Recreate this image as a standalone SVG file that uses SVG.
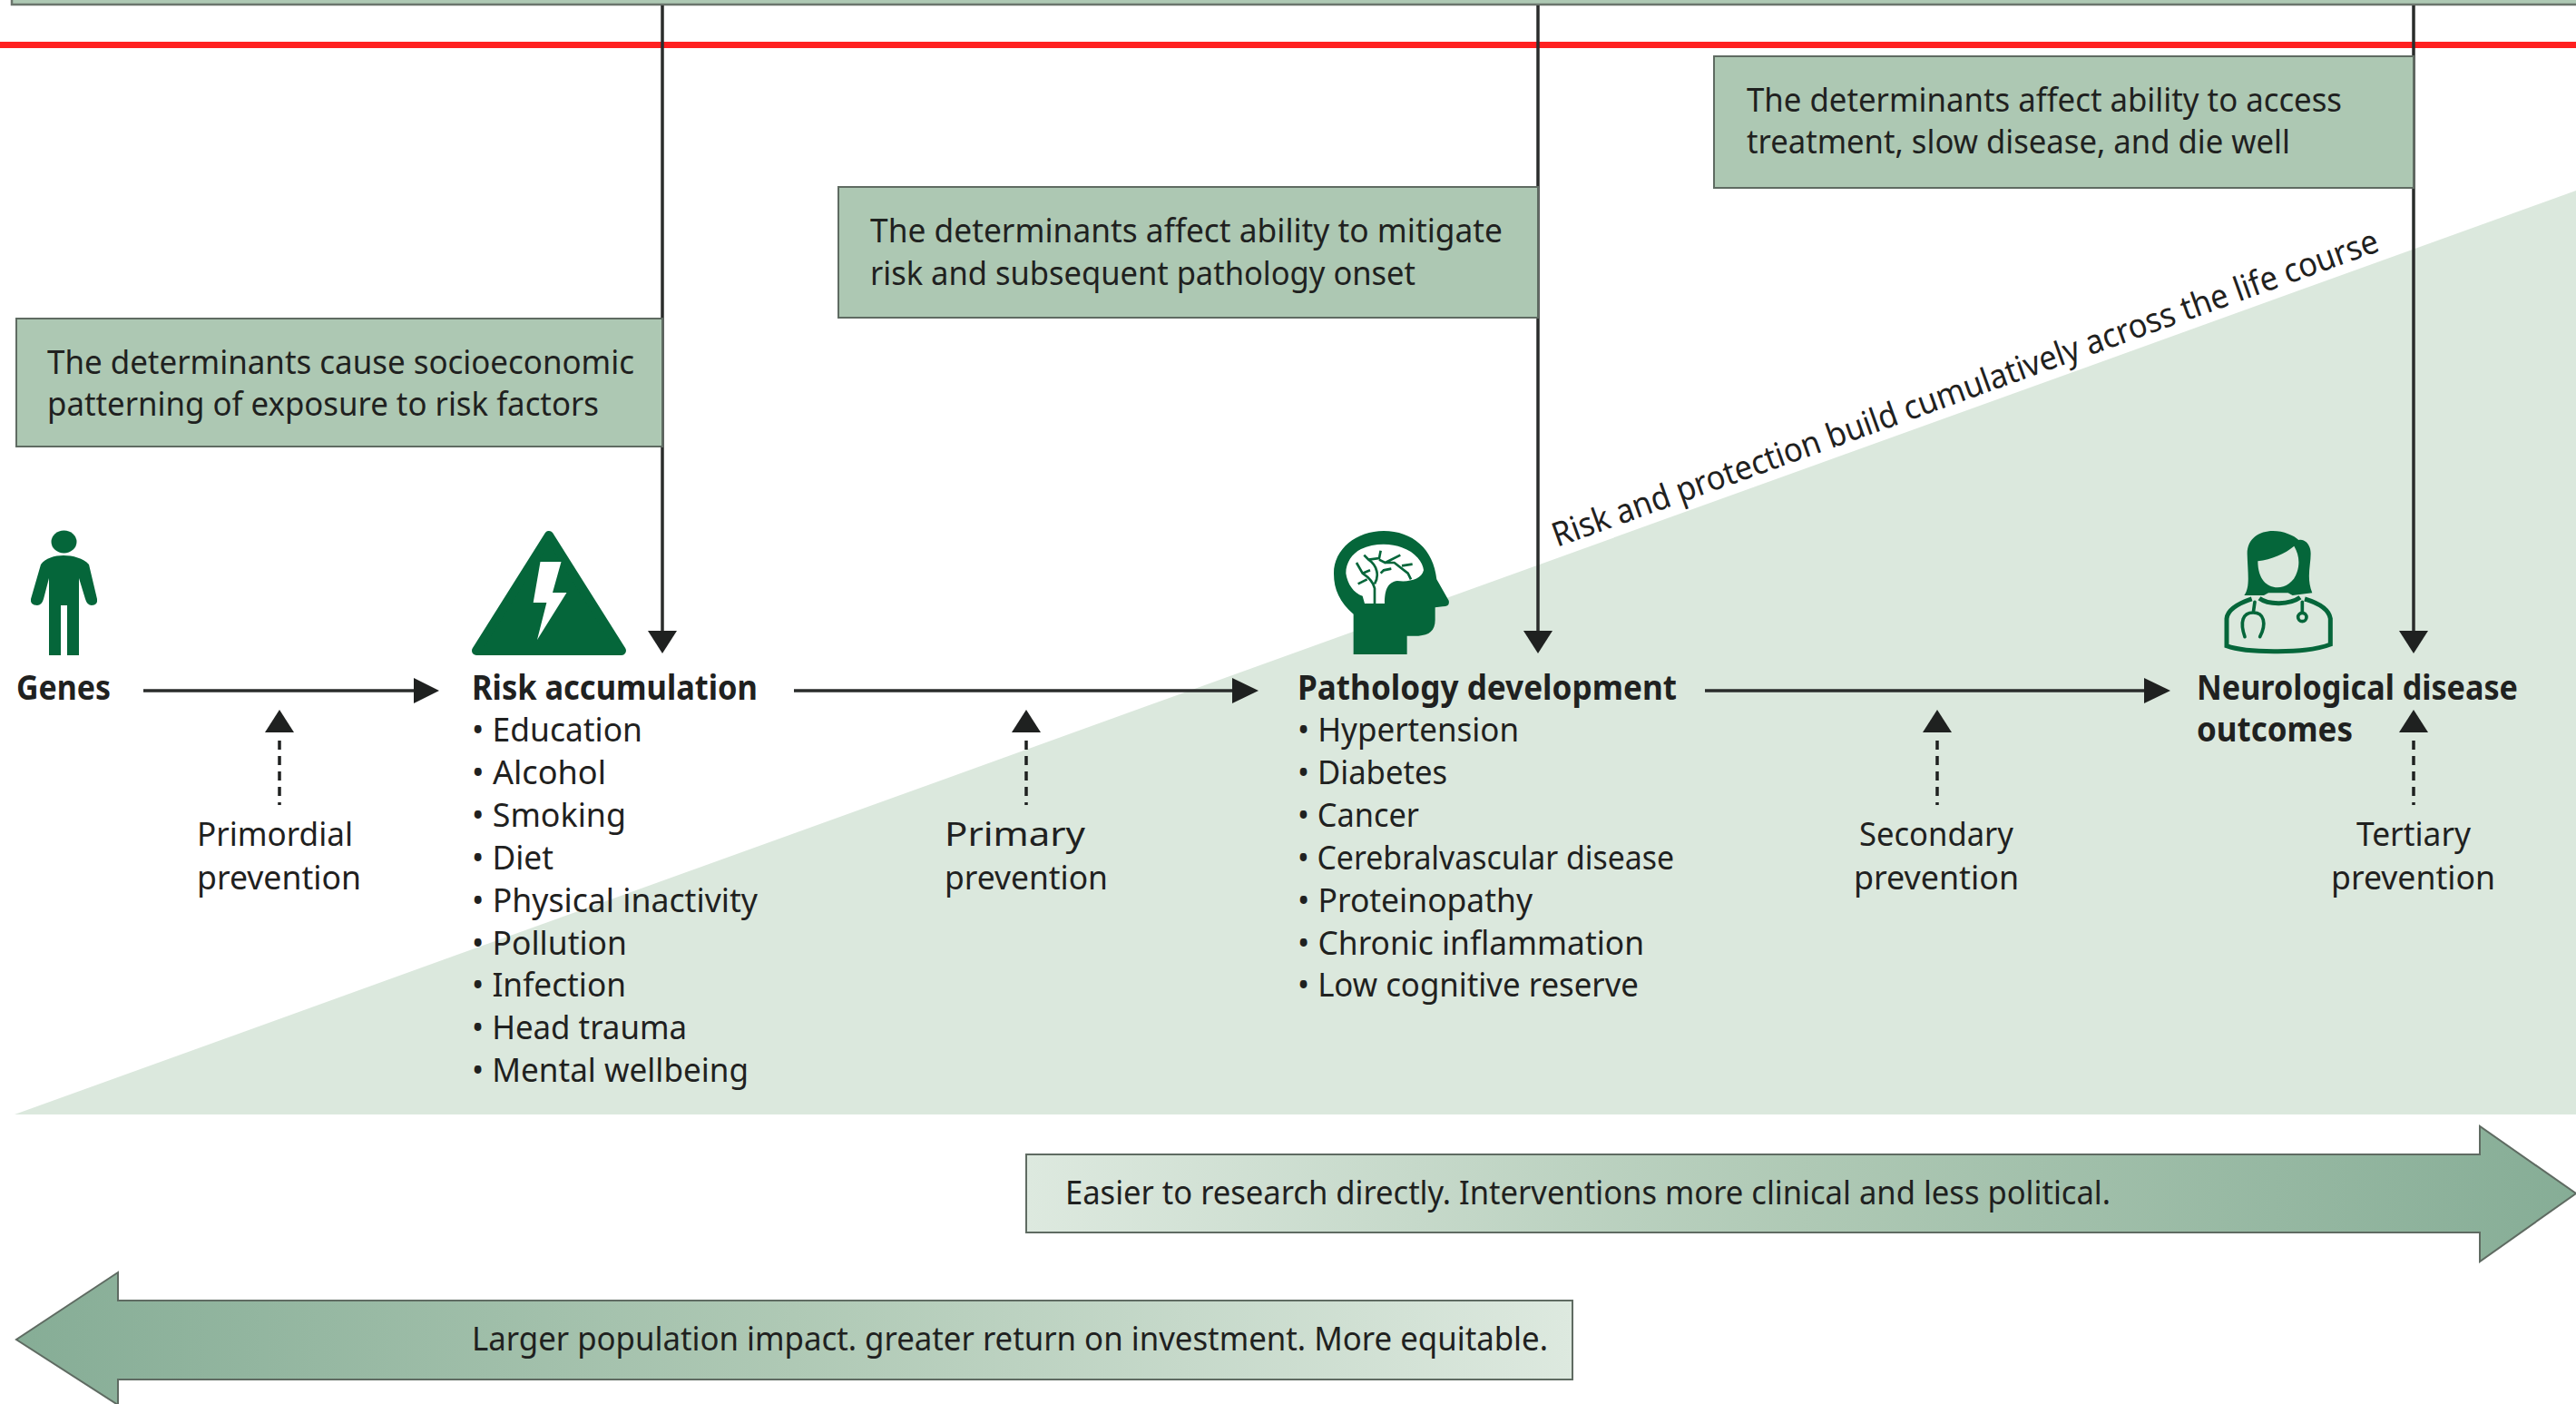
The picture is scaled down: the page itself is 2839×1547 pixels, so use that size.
<svg xmlns="http://www.w3.org/2000/svg" width="2839" height="1547" viewBox="0 0 2839 1547">
<defs>
<style>
text{font-family:"Noto Sans","Liberation Sans",sans-serif;font-size:37px;fill:#1f2120}
.b{font-weight:700}
.box{fill:#adc8b3;stroke:#5f6b62;stroke-width:2}
.ic{fill:#05663a}
.ln{stroke:#2a2c2b;stroke-width:3.5;fill:none}
.ds{stroke:#1f2120;stroke-width:3.5;fill:none;stroke-dasharray:10 7}
.ah{fill:#1f2120}
.band{stroke:#6b756d;stroke-width:2.5}
</style>
<linearGradient id="gr" x1="0" x2="1" y1="0" y2="0"><stop offset="0" stop-color="#dde9df"/><stop offset="0.5" stop-color="#afc9b5"/><stop offset="1" stop-color="#86ad96"/></linearGradient>
<linearGradient id="gl" x1="1" x2="0" y1="0" y2="0"><stop offset="0" stop-color="#dde9df"/><stop offset="0.5" stop-color="#afc9b5"/><stop offset="1" stop-color="#86ad96"/></linearGradient>
</defs>
<rect width="2839" height="1547" fill="#fff"/>
<g id="background">
<polygon points="16,1228 2839,210 2839,1228" fill="#dbe8dd"/>
<rect x="13" y="-6" width="2830" height="11" fill="#adc8b3" class="band"/>
<rect x="0" y="46" width="2839" height="7" fill="#ff2020"/>
</g>
<g id="connectors">
<line class="ln" x1="730" y1="6" x2="730" y2="698"/><polygon class="ah" points="714,695 746,695 730,720"/>
<line class="ln" x1="1695" y1="6" x2="1695" y2="698"/><polygon class="ah" points="1679,695 1711,695 1695,720"/>
<line class="ln" x1="2660" y1="6" x2="2660" y2="698"/><polygon class="ah" points="2644,695 2676,695 2660,720"/>
<line class="ln" x1="158" y1="761" x2="460" y2="761"/><polygon class="ah" points="456,747 456,775 484,761"/>
<line class="ln" x1="875" y1="761" x2="1362" y2="761"/><polygon class="ah" points="1358,747 1358,775 1387,761"/>
<line class="ln" x1="1879" y1="761" x2="2367" y2="761"/><polygon class="ah" points="2363,747 2363,775 2392,761"/>
<line class="ds" x1="308" y1="816" x2="308" y2="887"/><polygon class="ah" points="292,807 324,807 308,782"/>
<line class="ds" x1="1131" y1="816" x2="1131" y2="887"/><polygon class="ah" points="1115,807 1147,807 1131,782"/>
<line class="ds" x1="2135" y1="816" x2="2135" y2="887"/><polygon class="ah" points="2119,807 2151,807 2135,782"/>
<line class="ds" x1="2660" y1="816" x2="2660" y2="887"/><polygon class="ah" points="2644,807 2676,807 2660,782"/>
</g>
<g id="box-socioeconomic">
<rect class="box" x="18" y="351" width="712" height="141"/>
<text x="52" y="412" textLength="647" lengthAdjust="spacingAndGlyphs">The determinants cause socioeconomic</text>
<text x="52" y="458" textLength="608" lengthAdjust="spacingAndGlyphs">patterning of exposure to risk factors</text>
</g>
<g id="box-mitigate">
<rect class="box" x="924" y="206" width="771" height="144"/>
<text x="959" y="267" textLength="697" lengthAdjust="spacingAndGlyphs">The determinants affect ability to mitigate</text>
<text x="959" y="314" textLength="601" lengthAdjust="spacingAndGlyphs">risk and subsequent pathology onset</text>
</g>
<g id="box-access">
<rect class="box" x="1889" y="62" width="771" height="145"/>
<text x="1925" y="123" textLength="656" lengthAdjust="spacingAndGlyphs">The determinants affect ability to access</text>
<text x="1925" y="169" textLength="599" lengthAdjust="spacingAndGlyphs">treatment, slow disease, and die well</text>
</g>
<g id="slope-label">
<text transform="translate(1716,603) rotate(-19.8)" textLength="965" lengthAdjust="spacingAndGlyphs">Risk and protection build cumulatively across the life course</text>
</g>
<g id="node-genes">
<ellipse class="ic" cx="70.5" cy="597" rx="14" ry="12.5"/>
<path class="ic" d="M70 612C80 612 92 615 98 622L107 660Q108 667 101 667Q96 667 94 660L87 637V722H74V667H67V722H54V637L48 660Q46 667 41 667Q33 667 34 660L45 622C50 615 60 612 70 612Z"/>
<text class="b" x="18" y="771" textLength="104" lengthAdjust="spacingAndGlyphs">Genes</text>
</g>
<g id="node-risk">
<polygon class="ic" points="605,590 685,717 525,717" stroke="#05663a" stroke-width="10" stroke-linejoin="round"/>
<polygon points="595.5,619 618.5,619 609,653 624.5,653 592,705 602.4,664 587.7,664" fill="#fff"/>
<text class="b" x="520" y="771" textLength="315" lengthAdjust="spacingAndGlyphs">Risk accumulation</text>
<text x="520" y="817" textLength="188" lengthAdjust="spacingAndGlyphs">• Education</text>
<text x="520" y="864" textLength="148" lengthAdjust="spacingAndGlyphs">• Alcohol</text>
<text x="520" y="911" textLength="170" lengthAdjust="spacingAndGlyphs">• Smoking</text>
<text x="520" y="958" textLength="90" lengthAdjust="spacingAndGlyphs">• Diet</text>
<text x="520" y="1005" textLength="315" lengthAdjust="spacingAndGlyphs">• Physical inactivity</text>
<text x="520" y="1052" textLength="171" lengthAdjust="spacingAndGlyphs">• Pollution</text>
<text x="520" y="1098" textLength="170" lengthAdjust="spacingAndGlyphs">• Infection</text>
<text x="520" y="1145" textLength="237" lengthAdjust="spacingAndGlyphs">• Head trauma</text>
<text x="520" y="1192" textLength="305" lengthAdjust="spacingAndGlyphs">• Mental wellbeing</text>
</g>
<g id="node-pathology">
<g transform="translate(1420,560) scale(0.3333)">
<path class="ic" d="M215 483V350C170 310 150 270 150 215C150 135 225 75 315 75C410 75 480 135 490 235L530 305Q535 325 510 325L485 328V370C485 405 465 420 430 422H392V483Z"/>
<path fill="#fff" d="M252 315L245 290C215 280 195 250 190 215C190 180 210 150 240 135C280 115 340 115 375 130C420 145 445 180 447 205C440 235 400 245 360 240C330 245 318 265 318 315Z"/>
<path fill="none" stroke="#05663a" stroke-width="8" d="M285 315V265C280 240 260 225 245 215L225 180M245 215L270 205M260 235L230 250M285 250C300 225 295 190 265 170L250 155M265 170L300 165L305 140M300 170L320 180L370 155M320 180H350L395 215L405 235M375 190L410 185M305 215L315 205L340 200"/>
</g>
<text class="b" x="1430" y="771" textLength="418" lengthAdjust="spacingAndGlyphs">Pathology development</text>
<text x="1430" y="817" textLength="244" lengthAdjust="spacingAndGlyphs">• Hypertension</text>
<text x="1430" y="864" textLength="165" lengthAdjust="spacingAndGlyphs">• Diabetes</text>
<text x="1430" y="911" textLength="134" lengthAdjust="spacingAndGlyphs">• Cancer</text>
<text x="1430" y="958" textLength="415" lengthAdjust="spacingAndGlyphs">• Cerebralvascular disease</text>
<text x="1430" y="1005" textLength="259" lengthAdjust="spacingAndGlyphs">• Proteinopathy</text>
<text x="1430" y="1052" textLength="382" lengthAdjust="spacingAndGlyphs">• Chronic inflammation</text>
<text x="1430" y="1098" textLength="376" lengthAdjust="spacingAndGlyphs">• Low cognitive reserve</text>
</g>
<g id="node-outcomes">
<g transform="translate(2400,560) scale(0.3333)">
<path class="ic" fill-rule="evenodd" d="M220 288C240 260 232 220 230 150C230 100 270 75 315 75C350 75 385 90 400 105C420 100 440 120 440 150C440 190 425 230 445 280L380 288L365 280H300L285 288ZM265 175C310 170 355 150 385 125C400 150 405 180 395 210C385 245 355 262 330 262C295 262 265 235 265 175Z"/>
<path fill="none" stroke="#05663a" stroke-width="15" d="M245 300C200 315 165 335 162 365V455C230 480 430 480 505 450V365C500 335 470 315 420 300M270 298C300 320 370 320 405 295"/>
<path fill="none" stroke="#05663a" stroke-width="11" stroke-linecap="round" d="M255 310L250 345C215 345 205 375 222 425M250 345C285 345 295 380 272 425M412 310V345"/>
<circle cx="412" cy="360" r="14" fill="none" stroke="#05663a" stroke-width="11"/>
</g>
<text class="b" x="2421" y="771" textLength="354" lengthAdjust="spacingAndGlyphs">Neurological disease</text>
<text class="b" x="2421" y="817" textLength="172" lengthAdjust="spacingAndGlyphs">outcomes</text>
</g>
<g id="prevention-labels">
<text x="217" y="932" textLength="172" lengthAdjust="spacingAndGlyphs">Primordial</text>
<text x="217" y="980" textLength="181" lengthAdjust="spacingAndGlyphs">prevention</text>
<text x="1041" y="932" textLength="155" lengthAdjust="spacingAndGlyphs">Primary</text>
<text x="1041" y="980" textLength="180" lengthAdjust="spacingAndGlyphs">prevention</text>
<text x="2049" y="932" textLength="170" lengthAdjust="spacingAndGlyphs">Secondary</text>
<text x="2043" y="980" textLength="182" lengthAdjust="spacingAndGlyphs">prevention</text>
<text x="2597" y="932" textLength="126" lengthAdjust="spacingAndGlyphs">Tertiary</text>
<text x="2569" y="980" textLength="181" lengthAdjust="spacingAndGlyphs">prevention</text>
</g>
<g id="arrow-clinical">
<polygon points="1131,1272 2733,1272 2733,1241 2839,1315 2733,1390 2733,1358 1131,1358" fill="url(#gr)" stroke="#5f6b62" stroke-width="2"/>
<text x="1174" y="1327" textLength="1152" lengthAdjust="spacingAndGlyphs">Easier to research directly. Interventions more clinical and less political.</text>
</g>
<g id="arrow-population">
<polygon points="1733,1433 130,1433 130,1402 18,1476 130,1548 130,1520 1733,1520" fill="url(#gl)" stroke="#5f6b62" stroke-width="2"/>
<text x="520" y="1488" textLength="1186" lengthAdjust="spacingAndGlyphs">Larger population impact. greater return on investment. More equitable.</text>
</g>
</svg>
